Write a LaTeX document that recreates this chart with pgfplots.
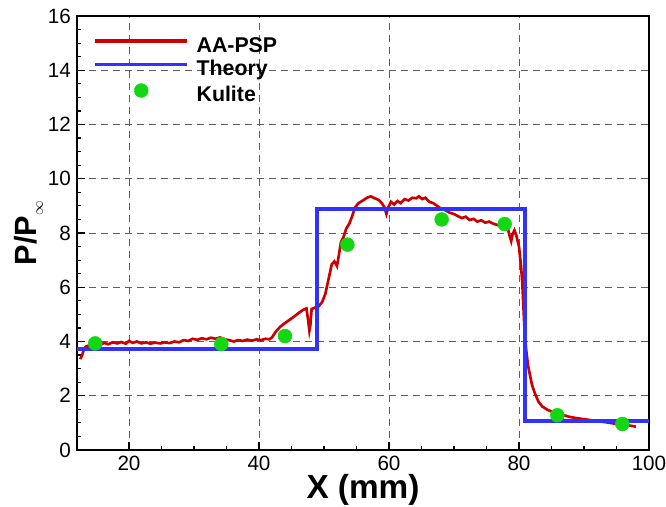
\documentclass[border=0pt]{standalone}
\usepackage{fontspec}
\setmainfont{Liberation Sans}
\usepackage{pgfplots}
\pgfplotsset{compat=1.18}
\definecolor{pspred}{RGB}{204,0,0}
\definecolor{thblue}{RGB}{50,50,255}
\definecolor{kgreen}{RGB}{20,215,20}
\definecolor{gridgray}{RGB}{95,95,95}
\pgfplotsset{dotlegend/.style={legend image code/.code={\draw[##1] plot coordinates {(34.5pt,4pt)};}}}
\begin{document}
\begin{tikzpicture}
\begin{axis}[
  name=ax, at={(0,0)}, anchor=south west,
  scale only axis, width=429pt, height=325.5pt,
  xmin=12, xmax=100, ymin=0, ymax=16,
  xtick={20,40,60,80,100}, ytick={0,2,4,6,8,10,12,14,16},
  minor x tick num=3, minor y tick num=3,
  tick align=inside, xtick pos=lower, ytick pos=left,
  major tick length=6pt, minor tick length=3pt,
  every tick/.style={black, line width=0.9pt},
  axis line style={line width=1.4pt},
  grid=major,
  grid style={gridgray, line width=0.7pt, dash pattern=on 5.5pt off 3.5pt},
  /pgf/number format/assume math mode=true,
  ticklabel style={font=\fontsize{15.5}{18}\selectfont},
  xticklabel style={yshift=-1pt},
  yticklabel style={xshift=-1pt},
  xlabel={\bfseries X (mm)},
  ylabel={\bfseries P/P\raisebox{-5pt}{\fontsize{11}{12}\selectfont\mdseries$\infty$}},
  xlabel style={font=\fontsize{25}{28}\selectfont, inner sep=0pt, yshift=1pt},
  ylabel style={font=\fontsize{23}{26}\selectfont, yshift=-3pt},
  legend style={at={(rel axis cs:0,1)}, anchor=north west,
    xshift=12pt, yshift=-15.5pt, draw=none, fill=none, inner sep=0pt,
    font=\bfseries\fontsize{16}{19}\selectfont,
    row sep=3pt,
    nodes={inner sep=0pt, text height=11.5pt, text depth=3pt}},
  legend cell align=left,
  legend image code/.code={\draw[#1] (0pt,4pt) -- (69pt,4pt);},
  /tikz/every odd column/.append style={column sep=5.5pt},
]
\addplot[pspred, line width=2pt, legend image post style={line width=3pt}] coordinates {
(12.5,3.35)(12.8,3.5)(13.1,3.75)(13.4,3.82)(13.8,3.85)(14.3,3.9)(15.0,3.92)
(15.6,3.88)(16.2,3.95)(16.8,3.9)(17.5,3.97)(18.2,3.93)(18.8,3.98)(19.5,3.92)
(20.0,4.02)(20.6,3.95)(21.2,4.0)(21.9,3.93)(22.6,3.97)(23.3,3.92)(24.0,3.96)
(24.8,3.93)(25.5,3.97)(26.2,3.94)(27.0,4.0)(27.7,3.97)(28.4,4.05)(29.1,4.02)
(29.8,4.1)(30.5,4.06)(31.2,4.12)(31.9,4.08)(32.6,4.14)(33.3,4.1)(34.0,4.15)
(34.7,4.08)(35.4,4.05)(36.1,4.0)(36.8,4.05)(37.5,4.02)(38.2,4.07)(38.9,4.03)
(39.6,4.08)(40.3,4.05)(41.0,4.1)(41.6,4.08)(42.0,4.15)(42.6,4.37)(43.3,4.55)
(44.0,4.68)(44.7,4.8)(45.4,4.92)(46.1,5.05)(46.8,5.17)(47.3,5.22)(47.55,4.8)
(47.75,4.4)(47.9,4.6)(48.1,5.2)(48.6,5.25)(49.2,5.3)(49.7,5.45)(50.2,5.75)
(50.7,6.3)(51.2,6.85)(51.6,6.95)(52.0,6.78)(52.3,7.2)(52.6,7.65)(53.0,7.85)
(53.4,8.15)(53.9,8.35)(54.3,8.6)(54.8,8.95)(55.3,9.1)(56.0,9.2)(56.6,9.3)
(57.2,9.35)(57.8,9.28)(58.4,9.22)(58.9,9.1)(59.3,8.95)(59.6,8.7)(59.9,8.95)
(60.3,9.15)(60.8,9.05)(61.3,9.18)(61.8,9.1)(62.4,9.25)(63.0,9.2)(63.6,9.3)
(64.2,9.28)(64.6,9.35)(65.1,9.25)(65.6,9.3)(66.2,9.15)(66.8,9.1)(67.4,9.0)
(68.0,8.9)(68.6,8.85)(69.3,8.75)(70.0,8.7)(70.6,8.62)(71.2,8.55)(71.8,8.6)
(72.4,8.48)(73.0,8.52)(73.6,8.42)(74.2,8.47)(74.8,8.38)(75.4,8.42)(76.0,8.35)
(76.6,8.3)(77.2,8.28)(77.8,8.22)(78.3,8.15)(78.6,7.85)(78.8,7.7)(79.0,7.95)
(79.3,8.1)(79.6,7.9)(80.0,7.5)(80.3,6.8)(80.5,6.2)(80.7,5.2)(80.85,4.4)
(81.1,3.7)(81.4,3.1)(81.7,2.75)(82.0,2.4)(82.5,2.05)(83.0,1.78)(83.6,1.6)
(84.4,1.48)(85.2,1.4)(86.0,1.33)(86.9,1.28)(87.8,1.22)(88.7,1.18)(89.6,1.15)
(90.5,1.12)(91.5,1.08)(92.5,1.05)(93.5,1.02)(94.5,0.98)(95.5,0.95)(96.5,0.92)
(97.3,0.89)(98.0,0.86)
};
\addlegendentry{AA-PSP}
\addplot[thblue, line width=2.8pt] coordinates {
(12,3.72)(48.9,3.72)(48.9,8.88)(80.95,8.88)(80.95,1.08)(100,1.08)
};
\addlegendentry{Theory}
\addplot[only marks, mark=*, mark size=5.2pt, color=kgreen, dotlegend]
  coordinates {
(14.8,3.93)(34.2,3.91)(44.0,4.2)(53.6,7.57)(68.1,8.5)(77.8,8.33)(85.9,1.28)(95.9,0.96)
};
\addlegendentry{Kulite}
\end{axis}
\pgfresetboundingbox
\path (-57.75pt,-42pt) rectangle (441.75pt,337.5pt);
\end{tikzpicture}
\end{document}
